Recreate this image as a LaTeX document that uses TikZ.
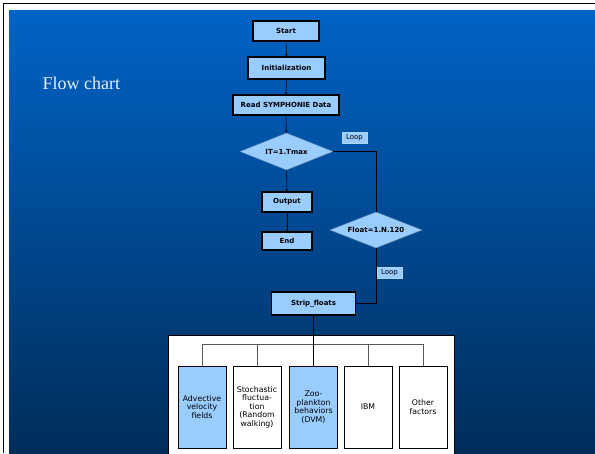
\documentclass[tikz,border=0pt]{standalone}
\usepackage{fontspec}
\setmainfont{DejaVu Sans}
\newfontfamily\titlefont{Liberation Serif}
\usetikzlibrary{arrows.meta, positioning, shapes.geometric, calc}
\definecolor{boxblue}{HTML}{99CCFF}
\definecolor{bgtop}{HTML}{0063C6}
\definecolor{bgbot}{HTML}{002D5A}
\definecolor{titlewhite}{HTML}{E4F0FF}

\begin{document}
\begin{tikzpicture}[x=1pt, y=-1pt, every node/.style={font=\fontsize{7}{8.5}\selectfont},
  blk/.style={draw, line width=1.2pt, fill=boxblue, inner sep=0pt, font=\fontsize{7}{8.5}\selectfont\bfseries},
  dec/.style={diamond, draw=boxblue!70!black, line width=0.4pt, fill=boxblue, inner sep=0pt, aspect=2.5, font=\fontsize{7}{8.5}\selectfont\bfseries},
  tag/.style={fill=boxblue, draw=boxblue!80!white, line width=0.3pt, inner sep=0pt, minimum width=25pt, minimum height=11pt},
  sub/.style={draw, line width=1pt, inner sep=0pt, align=center, minimum width=48pt, minimum height=82pt, font=\fontsize{7.8}{8.5}\selectfont},
  flow/.style={line width=0.6pt, -{Stealth[length=2.5pt, width=2.5pt]}},
  >={Stealth}]
\useasboundingbox (0,0) rectangle (595,453);
% backdrop of the slide
\fill[white] (0,0) rectangle (595,453);
\draw[line width=1pt] (3,453) -- (3,3) -- (595,3);
\shade[top color=bgtop, bottom color=bgbot] (9,10) rectangle (595,453);
\node[anchor=base west, text=titlewhite, font=\titlefont\fontsize{18}{21}\selectfont] (title) at (39,89) {Flow chart};
% main column
\node[blk, minimum width=66pt, minimum height=20pt] (start) at (286,31) {Start};
\node[blk, minimum width=77pt, minimum height=22pt] (init) at (286.5,68) {Initialization};
\node[blk, minimum width=106pt, minimum height=20pt] (read) at (286,105) {Read SYMPHONIE Data};
\node[dec, minimum width=93pt, minimum height=37pt] (itloop) at (286.5,151.5) {IT=1.Tmax};
\node[blk, minimum width=50pt, minimum height=20pt] (output) at (287,202) {Output};
\node[blk, minimum width=50pt, minimum height=18pt] (end) at (287,241) {End};
\node[dec, minimum width=92pt, minimum height=36pt] (floatloop) at (376,230) {Float=1.N.120};
\node[tag] (loopa) at (354.5,138) {Loop};
\node[tag] (loopb) at (389.5,273) {Loop};
\node[blk, minimum width=84pt, minimum height=23pt] (strip) at (313.5,303.5) {Strip\_floats};
\draw[flow] (start) -- (init);
\draw[flow] (init) -- (read);
\draw[flow] (read) -- (itloop);
\draw[flow] (itloop) -- (output);
\draw[flow] (output) -- (end);
\draw[line width=1pt] (itloop.east) -| (floatloop.north);
\draw[line width=1pt] (floatloop.south) |- (strip.east);
% factors panel
\node[draw, fill=white, line width=1pt, inner sep=0pt, minimum width=286pt, minimum height=125pt] (panel) at (311,397.5) {};
\foreach \n/\x/\c/\t in {adv/202/boxblue/{Advective\\velocity\\fields},
    sto/257/white/{Stochastic\\fluctua-\\tion\\(Random\\walking)},
    zoo/313.5/boxblue/{Zoo-\\plankton\\behaviors\\(DVM)},
    ibm/368/white/{IBM},
    other/423/white/{Other\\factors}}{
  \node[sub, fill=\c] (\n) at (\x,407) {\t};}
\coordinate (bar) at (313.5,344);
\draw[line width=1pt, black!65] (adv.north |- bar) -- (other.north |- bar);
\foreach \n in {adv,sto,ibm,other}{
  \draw[line width=1pt, black!65] (\n.north |- bar) -- (\n.north);}
\draw[line width=1pt] (strip.south) -- (zoo.north);
\end{tikzpicture}
\end{document}
